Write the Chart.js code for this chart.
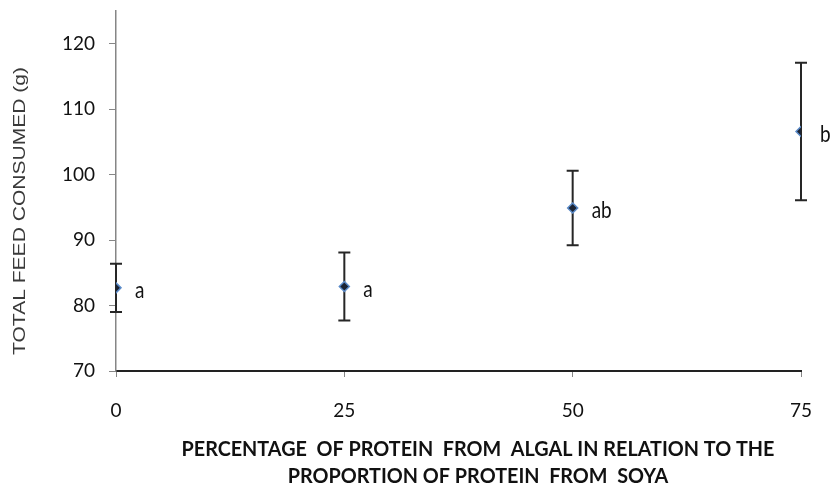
<!DOCTYPE html>
<html>
<head>
<meta charset="utf-8">
<script src="https://cdn.jsdelivr.net/npm/chart.js@4"></script>
<style>
  html, body { margin: 0; padding: 0; background: #fff; }
  #wrap { width: 832px; height: 491px; position: relative; }
</style>
</head>
<body>
<div id="wrap"><canvas id="feedChart"></canvas></div>
<script>
const algalPercent = [0, 25, 50, 75];
const feedMeans = [82.7, 82.9, 94.9, 106.6];
const feedErrors = [3.7, 5.2, 5.7, 10.5];
const groupLetters = ["a", "a", "ab", "b"];
const xTickValues = [0, 25, 50, 75];
const yTickValues = [70, 80, 90, 100, 110, 120];

const xTitleLines = [
  "PERCENTAGE  OF PROTEIN  FROM  ALGAL IN RELATION TO THE",
  "PROPORTION OF PROTEIN  FROM  SOYA",
];
const yTitle = "TOTAL FEED CONSUMED (g)";

const tickFont = "Lato";

// error bars under the markers
const errorBarPlugin = {
  id: "errorBars",
  beforeDatasetsDraw(chart) {
    const { ctx, scales } = chart;
    ctx.save();
    ctx.strokeStyle = "#262626";
    ctx.lineWidth = 2;
    algalPercent.forEach((x, i) => {
      const px = scales.x.getPixelForValue(x);
      const top = scales.y.getPixelForValue(feedMeans[i] + feedErrors[i]);
      const bottom = scales.y.getPixelForValue(feedMeans[i] - feedErrors[i]);
      ctx.beginPath();
      ctx.moveTo(px, top);
      ctx.lineTo(px, bottom);
      ctx.moveTo(px - 6, top);
      ctx.lineTo(px + 6, top);
      ctx.moveTo(px - 6, bottom);
      ctx.lineTo(px + 6, bottom);
      ctx.stroke();
    });
    ctx.restore();
  },
};

// significance letters + axis titles
const labelsPlugin = {
  id: "labels",
  afterDraw(chart) {
    const { ctx, scales } = chart;
    ctx.save();
    ctx.fillStyle = "#111";
    ctx.font = `19px ${tickFont}`;
    ctx.textAlign = "left";
    ctx.textBaseline = "middle";
    algalPercent.forEach((x, i) => {
      const px = scales.x.getPixelForValue(x);
      const py = scales.y.getPixelForValue(feedMeans[i]);
      ctx.save();
      ctx.translate(px + 19, py + 3);
      ctx.scale(1, 1.2);
      ctx.fillText(groupLetters[i], 0, 0);
      ctx.restore();
    });

    // x title, squeezed to the width of the original condensed font
    ctx.font = `bold 20px ${tickFont}`;
    ctx.textAlign = "center";
    ctx.fillStyle = "#111";
    const sx = 593 / ctx.measureText(xTitleLines[0]).width;
    ctx.save();
    ctx.translate(478, 0);
    ctx.scale(sx, 1);
    ctx.fillText(xTitleLines[0], 0, 450);
    ctx.fillText(xTitleLines[1], 0, 477);
    ctx.restore();

    ctx.font = "17px 'Liberation Sans'";
    ctx.fillStyle = "#3a3a3a";
    const sy = 288 / ctx.measureText(yTitle).width;
    ctx.translate(20, 211);
    ctx.rotate(-Math.PI / 2);
    ctx.scale(sy, 1);
    ctx.fillText(yTitle, 0, 0);
    ctx.restore();
  },
};

new Chart(document.getElementById("feedChart"), {
  type: "scatter",
  data: {
    datasets: [{
      data: algalPercent.map((x, i) => ({ x, y: feedMeans[i] })),
      pointStyle: "rectRot",
      pointRadius: 5,
      pointBackgroundColor: "#1b2333",
      pointBorderColor: "#5b8bc9",
      pointBorderWidth: 1.5,
    }],
  },
  options: {
    responsive: true,
    maintainAspectRatio: false,
    animation: false,
    layout: { padding: { top: 11, right: 31, left: 0, bottom: 0 } },
    plugins: { legend: { display: false }, tooltip: { enabled: false } },
    scales: {
      x: {
        type: "linear",
        min: 0,
        max: 75,
        afterBuildTicks: (scale) => { scale.ticks = xTickValues.map((v) => ({ value: v })); },
        afterFit: (scale) => {
          scale.height = 120;
          scale.paddingLeft = 0;
          scale.paddingRight = 0;
        },
        grid: { drawOnChartArea: false, tickLength: 6, color: "#868686", lineWidth: 1 },
        border: { color: "#222", width: 2 },
        ticks: { padding: 22, color: "#111", font: { family: tickFont, size: 19 } },
      },
      y: {
        min: 70,
        max: 125,
        afterBuildTicks: (scale) => { scale.ticks = yTickValues.map((v) => ({ value: v })); },
        afterFit: (scale) => {
          scale.width = 116;
          scale.paddingTop = 0;
          scale.paddingBottom = 0;
        },
        grid: { drawOnChartArea: false, tickLength: 7, color: "#868686", lineWidth: 1 },
        border: { color: "#868686", width: 1.5 },
        ticks: { padding: 14, color: "#111", font: { family: tickFont, size: 19 } },
      },
    },
  },
  plugins: [errorBarPlugin, labelsPlugin],
});
</script>
</body>
</html>
